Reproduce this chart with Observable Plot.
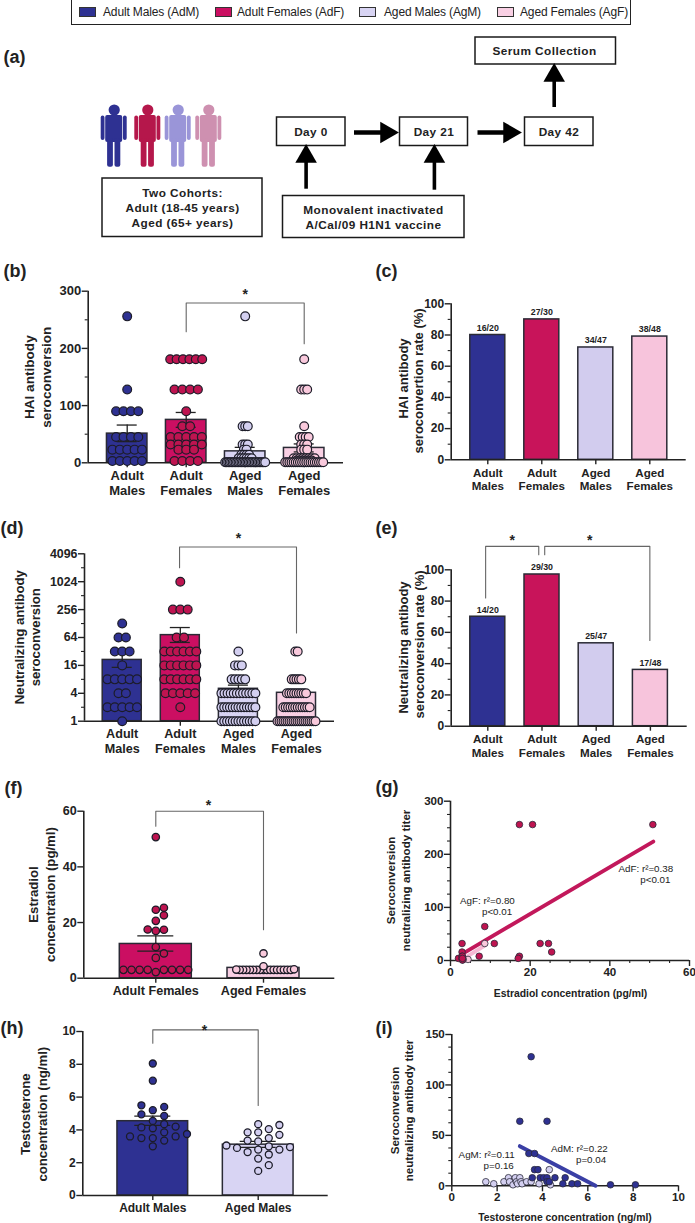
<!DOCTYPE html>
<html>
<head>
<meta charset="utf-8">
<script src="https://cdn.jsdelivr.net/npm/d3@7"></script>
<script src="https://cdn.jsdelivr.net/npm/@observablehq/plot@0.6"></script>
<style>
html,body{margin:0;padding:0;background:#fff;}
#root{position:relative;width:695px;height:1223px;overflow:hidden;font-family:"Liberation Sans",Arial,sans-serif;}
#legend{position:absolute;left:71px;top:-1px;width:558px;height:24px;border:1px solid #222;box-sizing:content-box;}
#legend span{position:absolute;white-space:nowrap;}
</style>
</head>
<body>
<div id="root"><div id="legend"></div></div>
<script>
// ---------- palette ----------
const INK = "#222";
const barFill = {AdM:"#2E3192", AdF:"#CB0F62", AgM:"#D8D4F3", AgF:"#F9D0E4"};
const dotFill = {AdM:"#2E3192", AdF:"#BE1450", AgM:"#D3CFF0", AgF:"#F9C9DC"};
const rateFill = {AdM:"#2E3192", AdF:"#C8145A", AgM:"#D2CCEE", AgF:"#F7C4DC"};

// ---------- legend ----------
const legendGroups = ["AdM","AdF","AgM","AgF"];
const legendLabels = ["Adult Males (AdM)","Adult Females (AdF)","Aged Males (AgM)","Aged Females (AgF)"];
const legendSwatchLeft = [7,143,287,425];
const legendTextLeft = [31,165,312,448];

// ---------- categorical labels ----------
const fourLabels = ["Adult\nMales","Adult\nFemales","Aged\nMales","Aged\nFemales"];
const fourKeys = ["AdM","AdF","AgM","AgF"];

// ---------- (b) HAI seroconversion: [titer, number of subjects] ----------
const haiAdM = [[256,1],[128,1],[90,4],[45,4],[23,5],[3,5]];
const haiAdF = [[181,6],[128,4],[90,1],[64,2],[45,5],[32,5],[23,3],[3,4]];
const haiAgM = [[256,1],[64,3],[32,3],[23,2],[14,4],[8,6],[1,28]];
const haiAgF = [[181,1],[128,3],[64,1],[45,4],[32,3],[23,3],[8,8],[4,6],[1,19]];
const haiMean = [51,75,20,26];
const haiLow = [37,62,13,19];
const haiHigh = [66,88,27,33];

// ---------- (c) HAI rate ----------
const haiRate = [80,90,72,79];
const haiRateText = ["16/20","27/30","34/47","38/48"];

// ---------- (d) neutralizing seroconversion ----------
const neutAdM = [[128,1],[64,2],[32,3],[16,1],[8,5],[4,2],[2,5],[1,1]];
const neutAdF = [[1024,1],[256,3],[64,2],[32,6],[16,6],[8,6],[4,5],[2,1]];
const neutAgM = [[32,1],[16,3],[8,5],[4,12],[2,13],[1,13]];
const neutAgF = [[32,2],[8,5],[4,9],[2,12],[1,20]];
const neutMean = [21,72,5,4.1];
const neutLow = [14.5,50,4,3.5];
const neutHigh = [30,105,6,4.8];

// ---------- (e) neutralizing rate ----------
const neutRate = [70,97,53,36];
const neutRateText = ["14/20","29/30","25/47","17/48"];

// ---------- (f) estradiol ----------
const estradiolAdF = [2.2,3,3,3,3,3,3,3,3,7.3,8.9,11.2,17,17.4,17.5,20.6,22.6,24.6,25.3,50.7];
const estradiolAgF = [3,3,3,3,3,3,3,3,3,3,3,3,3,3,3,3,3.1,3.2,4.3,8.9];
const estradiolMean = [12.3,3.7];
const estradiolLow = [9.7,3.2];
const estradiolHigh = [15.2,4.1];

// ---------- (g) estradiol vs titer ----------
const gAdFx = [17.3,20.6,50.8,8.6,2.9,11,22.5,24.6,25.4,2.9,7.2,17.3,17,2,2.9,2.9,3,3,3,3];
const gAdFy = [256,256,256,64,32,32,32,32,16,16,8,8,4,4,8,4,2,8,1,4];
const gAgFx = [8.6,4.4,3,3.2];
const gAgFy = [32,2,1,2];
const gAdFLine = [[3.3,14],[50.9,224]];
const gAgFLine = [[3,2],[8.6,28]];

// ---------- (h) testosterone ----------
const testoAdM = [8.05,7,5.5,5.4,5.2,4.95,4.85,4.55,4.35,4.2,4.15,4.1,3.85,3.75,3.6,3.6,3.5,3.5,3.35,3];
const testoAgM = [4.35,4.3,4.05,3.85,3.85,3.7,3.5,3.35,3.3,3.05,3,2.95,2.9,2.8,2.8,2.65,2.5,2.25,1.85,1.5];
const testoMean = [4.53,3.1];
const testoLow = [4.27,2.93];
const testoHigh = [4.84,3.3];

// ---------- (i) testosterone vs titer ----------
const iAgMx = [1.5,1.85,2.3,2.5,2.55,2.7,2.8,2.85,2.9,3,3.05,3.1,3.3,3.5,3.85,4.3,4.35];
const iAgMy = [4,2,4,8,4,1,8,4,2,8,4,2,4,4,2,16,1];
const iAdMx = [3.5,3,4.2,3.4,3.65,3.65,3.8,3.55,3.9,4.05,4.2,4.55,5,4.2,4.3,4.9,5.3,5.55,7,8.1];
const iAdMy = [128,64,64,32,32,16,16,8,8,8,8,8,8,4,4,2,2,2,1,1];
const iAdMLine = [[3,39.3],[6.34,0]];

// ---------- (a) study-design diagram, in page pixels ----------
const people = [{cx:113.7,c:"#2E3192"},{cx:147.3,c:"#B5174B"},{cx:177.7,c:"#9A95D8"},{cx:208.3,c:"#CE90B0"}];
const personParts = [[-8.5,8.5,115,142,3],[-13,-9.2,115.5,140,2],[9.2,13,115.5,140,2],[-6.6,-0.8,138,166.7,2],[0.8,6.6,138,166.7,2]];
const flowBoxes = [[475,615.5,37,64],[276.5,345,117,145.5],[399.5,467.5,117,145.5],[524.5,593,117,145.5],[102,262,178,236.5],[282.5,464,195.5,237.5]];
const flowText = [
  ["Serum Collection",544,51],["Day 0",310.5,132],["Day 21",433.5,132],["Day 42",558.5,132],
  ["Two Cohorts:",182,192.5],["Adult (18-45 years)",182,207.5],["Aged (65+ years)",182,222.5],
  ["Monovalent inactivated",373,210],["A/Cal/09 H1N1 vaccine",373,225]
];
const upArrows = [[553.7,107,76],[305.6,188.7,157],[433.9,189.7,157]];
const rightArrows = [[354,386,132],[477.5,509,132]];
const panelLetters = [["(a)",3,57],["(b)",3,271],["(c)",375,271],["(d)",0,528],["(e)",375,528],["(f)",4,788],["(g)",375,787],["(h)",0,1028],["(i)",375,1028]];

// ---------- helpers ----------
const FONT = '"Liberation Sans",Arial,sans-serif';
const root = document.getElementById("root");

// Lay out a table of [value, count] rows, centring each row and squeezing it to a width.
function rowSwarm(rows, sep, maxHalf){
  const out = [];
  for (const [v,n] of rows){
    const s = n>1 ? Math.min(sep, 2*maxHalf/(n-1)) : 0;
    for (let j=0;j<n;j++) out.push({v, off:(j-(n-1)/2)*s});
  }
  return out;
}
// Lay out continuous values on a grid of offsets, avoiding collisions.
function gridSwarm(vals, sep, minDist, pxPerUnit){
  const placed = [];
  for (const v of [...vals].sort((a,b)=>a-b)){
    for (let k=0;k<40;k++){
      const cands = k===0 ? [0] : [k*sep,-k*sep];
      const hit = cands.find(o=>placed.every(p=>Math.hypot(p.off-o,(p.v-v)*pxPerUnit)>=minDist));
      if (hit!==undefined){ placed.push({v,off:hit}); break; }
    }
  }
  return placed;
}
function addPlot(box, opts){
  const p = Plot.plot({
    width:box.sw, height:box.sh,
    marginLeft:box.L-box.sx, marginRight:box.sx+box.sw-box.R,
    marginTop:box.T-box.sy, marginBottom:box.sy+box.sh-box.B,
    style:{background:"transparent",fontFamily:FONT,overflow:"visible"},
    ...opts
  });
  p.style.position="absolute"; p.style.left=box.sx+"px"; p.style.top=box.sy+"px";
  p.style.maxWidth="none";
  root.appendChild(p);
  return p;
}
function placeText(box, str, px, py, o={}){
  return Plot.text([str],{text:d=>d,frameAnchor:"top-left",dx:px-box.L,dy:py-box.T,
    textAnchor:"middle",lineAnchor:"middle",fontWeight:"bold",fontSize:13,fill:INK,...o});
}
function axisMarks(o){
  const ms = [
    Plot.ruleX([o.xDomain[0]],{stroke:INK,strokeWidth:1.6}),
    Plot.ruleY([o.yDomain[0]],{stroke:INK,strokeWidth:1.6}),
    Plot.axisY({ticks:o.yTicks,tickSize:o.tickSize||6,tickPadding:1,fontSize:o.fs,fontWeight:"bold",color:INK,strokeWidth:1.4,label:null,tickFormat:d=>String(d)})
  ];
  if (o.yMinor) ms.push(Plot.axisY({ticks:o.yMinor,tickSize:3,tickFormat:()=>"",color:INK,strokeWidth:1.1,label:null}));
  if (o.xMinor) ms.push(Plot.axisX({ticks:o.xMinor,tickSize:3,tickFormat:()=>"",color:INK,strokeWidth:1.1,label:null}));
  return ms;
}
function bracketMarks(list){
  return list.map(pts=>Plot.line(pts,{x:d=>d[0],y:d=>d[1],stroke:"#666",strokeWidth:1.1}));
}
function starMarks(list, dy){
  return list.map(s=>Plot.text([s],{x:d=>d[0],y:d=>d[1],text:()=>"*",fontSize:14,fontWeight:"bold",fill:INK,dy:dy}));
}

// Bar chart with overlaid subject dots
function dotBarPanel(c){
  const box = c.box;
  const xDomain = [(box.L-c.c0)/c.sp,(box.R-c.c0)/c.sp];
  const idx = c.keys.map((_,i)=>i);
  const marks = [
    ...idx.map(i=>Plot.rect([i],{x1:d=>d-c.barW/2/c.sp,x2:d=>d+c.barW/2/c.sp,y1:()=>c.yDomain[0],y2:()=>c.mean[i],
      fill:barFill[c.keys[i]],stroke:"#2a2a35",strokeWidth:1.5})),
    Plot.ruleX(idx,{x:d=>d,y1:d=>c.low[d],y2:d=>c.high[d],stroke:INK,strokeWidth:1.3}),
    Plot.ruleY(idx,{y:d=>c.high[d],x1:d=>d-c.cap/c.sp,x2:d=>d+c.cap/c.sp,stroke:INK,strokeWidth:1.3}),
    Plot.ruleY(idx,{y:d=>c.low[d],x1:d=>d-c.cap/c.sp,x2:d=>d+c.cap/c.sp,stroke:INK,strokeWidth:1.3}),
    ...axisMarks({xDomain,yDomain:c.yDomain,yTicks:c.yTicks,yMinor:c.yMinor,fs:c.fs}),
    Plot.axisX({ticks:idx,tickSize:5,tickPadding:2,fontSize:c.fsX||c.fs,fontWeight:"bold",color:INK,strokeWidth:1.4,label:null,lineHeight:1.13,tickFormat:i=>c.labels[i]}),
    ...idx.map(i=>Plot.dot(c.swarm[i],{x:d=>i+d.off/c.sp,y:d=>d.v,r:c.r,fill:dotFill[c.keys[i]],stroke:"#1c1c28",strokeWidth:c.sw||1.2})),
    ...bracketMarks(c.brackets),
    ...starMarks(c.stars,c.starDy||3),
    ...c.titles.map(t=>placeText(box,t[0],t[1],t[2],{rotate:-90,fontSize:c.fsT}))
  ];
  addPlot(box,{x:{domain:xDomain,axis:null},y:{domain:c.yDomain,axis:null,...(c.yType?{type:c.yType,base:2}:{})},marks});
}
// Plain rate bars with n/N labels
function rateBarPanel(c){
  const box = c.box;
  const xDomain = [(box.L-c.c0)/c.sp,(box.R-c.c0)/c.sp];
  const idx = fourKeys.map((_,i)=>i);
  const marks = [
    Plot.rect(idx,{x1:d=>d-c.barW/2/c.sp,x2:d=>d+c.barW/2/c.sp,y1:()=>0,y2:d=>c.rate[d],fill:d=>rateFill[fourKeys[d]],stroke:"#2a2a35",strokeWidth:1.5}),
    ...axisMarks({xDomain,yDomain:[0,100],yTicks:[0,20,40,60,80,100],yMinor:[10,30,50,70,90],fs:12}),
    Plot.axisX({ticks:idx,tickSize:5,tickPadding:2,fontSize:11.6,fontWeight:"bold",color:INK,strokeWidth:1.4,label:null,lineHeight:1.18,tickFormat:i=>fourLabels[i]}),
    Plot.text(idx,{x:d=>d,y:d=>c.rate[d],text:d=>c.text[d],dy:-7,fontSize:8.8,fontWeight:"bold",fill:INK}),
    ...bracketMarks(c.brackets),
    ...starMarks(c.stars,3),
    ...c.titles.map(t=>placeText(box,t[0],t[1],t[2],{rotate:-90,fontSize:13}))
  ];
  addPlot(box,{x:{domain:xDomain,axis:null},y:{domain:[0,100],axis:null},marks});
}
function scatterPanel(c){
  const box = c.box;
  const marks = [
    ...axisMarks({xDomain:c.xDomain,yDomain:c.yDomain,yTicks:c.yTicks,yMinor:c.yMinor,xMinor:c.xMinor,fs:11.6}),
    Plot.axisX({ticks:c.xTicks,tickSize:6,tickPadding:1,fontSize:11.6,fontWeight:"bold",color:INK,strokeWidth:1.4,label:null,tickFormat:d=>String(d)}),
    ...c.lines.map(l=>Plot.line(l.pts,{x:d=>d[0],y:d=>d[1],stroke:l.color,strokeWidth:3.9})),
    ...c.series.map(s=>Plot.dot(s.x,{x:d=>d,y:(d,i)=>s.y[i],r:3.3,fill:s.fill,stroke:"#2a2a3a",strokeWidth:.8})),
    ...c.titles.map(t=>placeText(box,t[0],t[1],t[2],{rotate:-90,fontSize:11.6})),
    placeText(box,c.xTitle[0],c.xTitle[1],c.xTitle[2],{fontSize:10.4}),
    ...c.notes.map(t=>placeText(box,t[0],t[1],t[2],{fontWeight:"normal",fontSize:9.8,textAnchor:"end"}))
  ];
  addPlot(box,{x:{domain:c.xDomain,axis:null},y:{domain:c.yDomain,axis:null},marks});
}

// ---------- legend ----------
const legendEl = document.getElementById("legend");
legendGroups.forEach((g,i)=>{
  const sw = document.createElement("span");
  sw.style.cssText=`left:${legendSwatchLeft[i]}px;top:7px;width:15px;height:8px;background:${barFill[g]};border:1px solid #333;`;
  legendEl.appendChild(sw);
  const t = document.createElement("span");
  t.textContent = legendLabels[i];
  t.style.cssText=`left:${legendTextLeft[i]}px;top:4px;font-size:12px;line-height:16px;color:#222;letter-spacing:-.15px;`;
  legendEl.appendChild(t);
});

// ---------- (a) ----------
{
  const box = {sx:0,sy:25,sw:695,sh:220,L:0,R:695,T:25,B:245};
  const partRows = people.flatMap(p=>personParts.map(q=>({cx:p.cx,c:p.c,q})));
  addPlot(box,{
    x:{domain:[0,695],axis:null},
    y:{domain:[25,245],range:[0,220],axis:null},
    marks:[
      Plot.rect(flowBoxes,{x1:d=>d[0],x2:d=>d[1],y1:d=>d[2],y2:d=>d[3],fill:"#fff",stroke:"#1a1a1a",strokeWidth:1.5}),
      Plot.text(flowText,{x:d=>d[1],y:d=>d[2],text:d=>d[0],fontSize:11.8,fontWeight:"bold",fill:"#222"}),
      Plot.ruleX(upArrows,{x:d=>d[0],y1:d=>d[1],y2:d=>d[2],stroke:"#000",strokeWidth:3.6}),
      Plot.dot(upArrows,{x:d=>d[0],y:d=>d[2]-1,symbol:"triangle",r:8,fill:"#000",stroke:"none"}),
      Plot.ruleY(rightArrows,{y:d=>d[2],x1:d=>d[0],x2:d=>d[1],stroke:"#000",strokeWidth:4.5}),
      Plot.dot(rightArrows,{x:d=>d[1],y:d=>d[2],symbol:"triangle",rotate:90,r:8,fill:"#000",stroke:"none"}),
      Plot.dot(people,{x:d=>d.cx,y:()=>109.5,r:5.6,fill:d=>d.c}),
      Plot.rect(partRows,{x1:d=>d.cx+d.q[0],x2:d=>d.cx+d.q[1],y1:d=>d.q[2],y2:d=>d.q[3],rx:2,fill:d=>d.c})
    ]
  }).style.letterSpacing=".45px";
}
// panel letters
{
  const box = {sx:0,sy:0,sw:1,sh:1,L:0,R:1,T:0,B:1};
  addPlot(box,{x:{domain:[0,1],axis:null},y:{domain:[0,1],axis:null},marks:[
    ...panelLetters.map(t=>placeText(box,t[0],t[1],t[2],{fontSize:18,textAnchor:"start"}))
  ]});
}

const sharedSwarm = (a,b,c,d)=>[rowSwarm(a,7.4,16),rowSwarm(b,7.8,16),rowSwarm(c,2.6,20),rowSwarm(d,3,19)];

// ---------- (b) ----------
dotBarPanel({
  box:{sx:0,sy:245,sw:347,sh:260,L:87.7,R:343,T:290.7,B:462.3},
  c0:126.7,sp:59,barW:40.5,cap:10,r:4.4,fs:13,keys:fourKeys,labels:fourLabels,
  yDomain:[0,300],yTicks:[0,100,200,300],yMinor:[50,150,250],
  mean:haiMean,low:haiLow,high:haiHigh,
  swarm:sharedSwarm(haiAdM,haiAdF,haiAgM,haiAgF),
  brackets:[[[1,229],[1,279.5],[3,279.5],[3,208]]],stars:[[2,300]],
  titles:[["HAI antibody",29,376.7],["seroconversion",46,376.7]],fsT:13.6
});
// ---------- (c) ----------
rateBarPanel({
  box:{sx:347,sy:245,sw:348,sh:260,L:450.7,R:685.7,T:303.3,B:459.3},
  c0:487.3,sp:54,barW:35,rate:haiRate,text:haiRateText,brackets:[],stars:[],
  titles:[["HAI antibody",403,378],["seroconvertion rate (%)",418,380.5]]
});
// ---------- (d) ----------
dotBarPanel({
  box:{sx:0,sy:505,sw:347,sh:265,L:84,R:334,T:553.3,B:720.7},
  c0:121.7,sp:58.1,barW:39,cap:10,r:4.4,fs:12.4,fsX:12.6,keys:fourKeys,labels:fourLabels,yType:"log",
  yDomain:[1,4096],yTicks:[1,4,16,64,256,1024,4096],yMinor:[2,8,32,128,512,2048],
  mean:neutMean,low:neutLow,high:neutHigh,
  swarm:[rowSwarm(neutAdM,7.4,16),rowSwarm(neutAdF,7.4,16),rowSwarm(neutAgM,3.4,17),rowSwarm(neutAgF,2.4,19)],
  brackets:[[[0.987,2048],[0.987,5750],[3,5750],[3,80]]],stars:[[2,10300]],
  titles:[["Neutralizing antibody",19.3,636.7],["seroconversion",35.7,636.7]],fsT:13.2
});
// ---------- (e) ----------
rateBarPanel({
  box:{sx:347,sy:505,sw:348,sh:265,L:450.7,R:686.7,T:569.3,B:725.7},
  c0:487.3,sp:54.2,barW:35,rate:neutRate,text:neutRateText,
  brackets:[[[-0.04,82],[-0.04,115],[0.94,115],[0.94,109.6]],[[1.05,109.6],[1.05,115],[2.99,115],[2.99,54.8]]],
  stars:[[0.45,120.5],[1.88,120.5]],
  titles:[["Neutralizing antibody",403.3,647],["seroconversion rate (%)",419,644]]
});
// ---------- (f) ----------
dotBarPanel({
  box:{sx:0,sy:770,sw:347,sh:230,L:83.3,R:334.3,T:810.7,B:977.7},
  c0:155.3,sp:107.7,barW:72,cap:18,r:3.7,sw:1.3,fs:12.6,keys:["AdF","AgF"],labels:["Adult Females","Aged Females"],
  yDomain:[0,60],yTicks:[0,20,40,60],
  mean:estradiolMean,low:estradiolLow,high:estradiolHigh,
  swarm:[gridSwarm(estradiolAdF,8.1,7,2.78),gridSwarm(estradiolAgF,3.4,3.2,2.78)],
  brackets:[[[0,54.6],[0,60],[1,60],[1,17.4]]],stars:[[0.49,63]],
  titles:[["Estradiol",33,894],["concentration (pg/ml)",50,894]],fsT:13.2
});
// ---------- (g) ----------
scatterPanel({
  box:{sx:347,sy:770,sw:348,sh:230,L:450,R:689,T:800.7,B:960},
  xDomain:[0,60],yDomain:[0,300],xTicks:[0,20,40,60],yTicks:[0,100,200,300],
  xMinor:[5,10,15,25,30,35,45,50,55],yMinor:[25,50,75,125,150,175,225,250,275],
  lines:[{pts:gAgFLine,color:"#F6B9D4"},{pts:gAdFLine,color:"#C2185B"}],
  series:[{x:gAgFx,y:gAgFy,fill:dotFill.AgF},{x:gAdFx,y:gAdFy,fill:dotFill.AdF}],
  titles:[["Seroconversion",390.7,880],["neutralizing antibody titer",406,880]],
  xTitle:["Estradiol concentration (pg/ml)",570,993],
  notes:[["AdF: r²=0.38",672.7,868.3],["p<0.01",670,879],["AgF: r²=0.80",514.3,900.7],["p<0.01",511.7,911]]
});
// ---------- (h) ----------
dotBarPanel({
  box:{sx:0,sy:1000,sw:347,sh:223,L:82.3,R:327.7,T:1031,B:1195},
  c0:152.3,sp:105.4,barW:70.7,cap:18,r:3.5,sw:1.3,fs:12,keys:["AdM","AgM"],labels:["Adult Males","Aged Males"],
  yDomain:[0,10],yTicks:[0,2,4,6,8,10],
  mean:testoMean,low:testoLow,high:testoHigh,
  swarm:[gridSwarm(testoAdM,11.4,6.8,16.4),gridSwarm(testoAgM,10.6,8,16.4)],
  brackets:[[[0,9.29],[0,10.1],[1,10.1],[1,5.49]]],stars:[[0.49,10.25]],
  titles:[["Testosterone",25,1113.7],["concentration (ng/ml)",42.3,1113.7]],fsT:13.2
});
// ---------- (i) ----------
scatterPanel({
  box:{sx:347,sy:1000,sw:348,sh:223,L:451.3,R:678,T:1034,B:1185.3},
  xDomain:[0,10],yDomain:[0,150],xTicks:[0,2,4,6,8,10],yTicks:[0,50,100,150],
  yMinor:[12.5,25,37.5,62.5,75,87.5,112.5,125,137.5],
  lines:[{pts:iAdMLine,color:"#3A3FA5"}],
  series:[{x:iAgMx,y:iAgMy,fill:dotFill.AgM},{x:iAdMx,y:iAdMy,fill:dotFill.AdM}],
  titles:[["Seroconversion",395,1110],["neutralizing antibody titer",409,1110]],
  xTitle:["Testosterone concentration (ng/ml)",564.5,1217],
  notes:[["AgM: r²=0.11",514.3,1154.3],["p=0.16",513.3,1165],["AdM: r²=0.22",607.3,1148],["p=0.04",605.7,1159]]
});
</script>
</body>
</html>
